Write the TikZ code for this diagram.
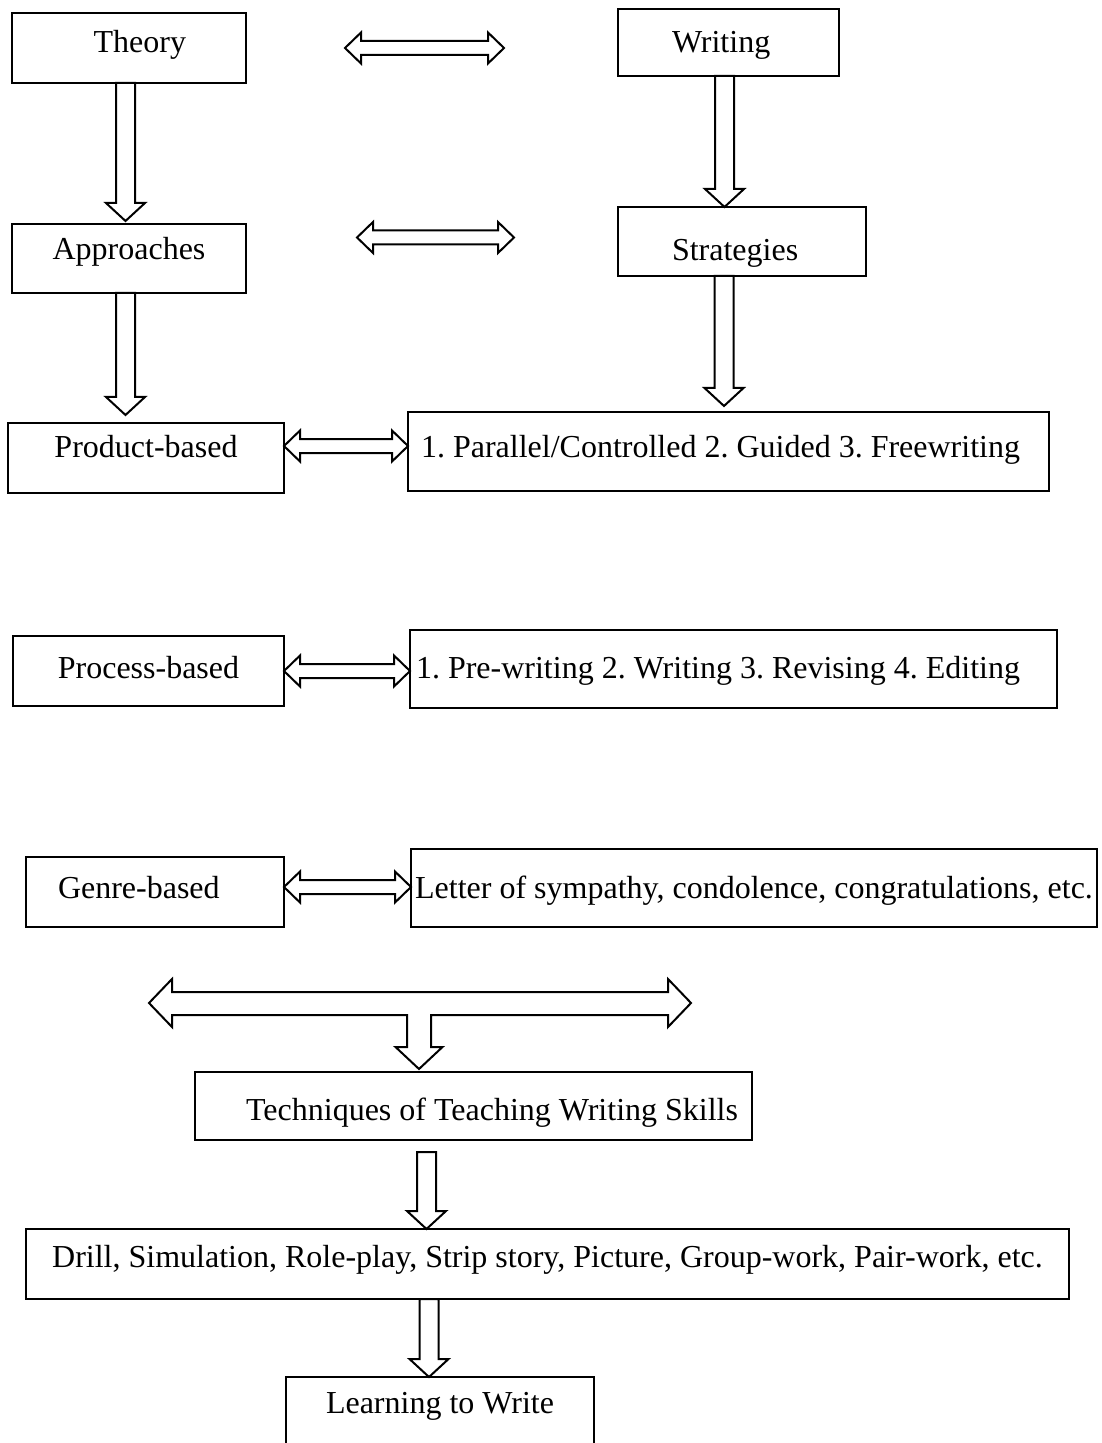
\documentclass[tikz,border=0pt]{standalone}
\usepackage{fontspec}
\setmainfont{Liberation Serif}
\usetikzlibrary{calc}
\frenchspacing
\tikzset{
  box/.style={draw, line width=1pt, outer sep=0pt, anchor=north west,
    font=\fontsize{16pt}{19pt}\selectfont, text height=11pt},
  downarrow/.style={line width=1pt, to path={let \p1=(\tikztostart), \p2=(\tikztotarget) in
    (\x1-4.75pt,\y1) -- (\x1-4.75pt,\y2+9pt) -- (\x1-9.75pt,\y2+9pt) -- (\x1,\y2)
    -- (\x1+9.75pt,\y2+9pt) -- (\x1+4.75pt,\y2+9pt) -- (\x1+4.75pt,\y1) -- cycle}},
  botharrow/.style={line width=1pt, to path={let \p1=(\tikztostart), \p2=(\tikztotarget) in
    (\x1,\y1) -- (\x1+8pt,\y1+7.75pt) -- (\x1+8pt,\y1+3.5pt) -- (\x2-8pt,\y1+3.5pt)
    -- (\x2-8pt,\y1+7.75pt) -- (\x2,\y1) -- (\x2-8pt,\y1-7.75pt) -- (\x2-8pt,\y1-3.5pt)
    -- (\x1+8pt,\y1-3.5pt) -- (\x1+8pt,\y1-7.75pt) -- cycle}}
}
\begin{document}
\begin{tikzpicture}[x=0.5pt,y=-0.5pt]
      \clip (0,0) rectangle (1101,1443);
      \node[box, minimum width=117pt, minimum height=35pt, text depth=6pt,
        align=flush right, text width=57pt, inner xsep=30pt] (theory) at (12,13) {Theory};
      \node[box, minimum width=110.5pt, minimum height=33.5pt, text depth=0.5pt,
        align=flush left, text width=56.5pt, inner xsep=27pt] (writing) at (618,9) {Writing};
      \node[box, minimum width=117pt, minimum height=34.5pt, text depth=9.5pt]
        (approaches) at (12,224) {Approaches};
      \node[box, minimum width=124pt, minimum height=34.5pt, text height=20pt, text depth=0.5pt,
        align=flush left, text width=70pt, inner xsep=27pt] (strategies) at (618,207) {Strategies};
      \node[box, minimum width=138pt, minimum height=35pt, text depth=12pt]
        (product) at (8,423) {Product-based};
      \node[box, minimum width=320.5pt, minimum height=39.5pt, text depth=5.5pt,
        align=flush left, text width=307.5pt, inner xsep=6.5pt] (parallel) at (408,412)
        {1. Parallel/Controlled 2. Guided 3. Freewriting};
      \node[box, minimum width=135.5pt, minimum height=35pt, text depth=4pt]
        (process) at (13,636) {Process-based};
      \node[box, minimum width=323.5pt, minimum height=39pt, text depth=2pt,
        align=flush left, text width=317.5pt, inner xsep=3pt] (prewriting) at (410,630)
        {1. Pre-writing 2. Writing 3. Revising 4. Editing};
      \node[box, minimum width=129pt, minimum height=35pt, text depth=5pt,
        align=flush left, text width=97pt, inner xsep=16pt] (genre) at (26,857) {Genre-based};
      \node[box, minimum width=343pt, minimum height=39pt, text depth=1pt, inner xsep=1pt]
        (letter) at (411,849) {Letter of sympathy, condolence, congratulations, etc.};
      \node[box, minimum width=278.5pt, minimum height=34pt, text height=14.5pt, text depth=0.5pt,
        align=flush right, text width=264.5pt, inner xsep=7pt] (techniques) at (195,1072)
        {Techniques of Teaching Writing Skills};
      \node[box, minimum width=521.5pt, minimum height=35pt, text depth=8pt]
        (drill) at (26,1229)
        {Drill, Simulation, Role-play, Strip story, Picture, Group-work, Pair-work, etc.};
      \node[box, minimum width=154pt, minimum height=35pt, text depth=10pt]
        (learning) at (286,1377) {Learning to Write};
      \draw[botharrow] ([xshift=49.5pt]theory.east) to ([xshift=-57pt]writing.west);
      \draw[botharrow] ([xshift=55.5pt,yshift=10.5pt]approaches.east) to ([xshift=-52pt]strategies.west);
      \draw[botharrow] ([yshift=6pt]product.east) to (parallel.west);
      \draw[botharrow] (process.east) to (prewriting.west);
      \draw[botharrow] ([yshift=2.5pt]genre.east) to (letter.west);
      \draw[downarrow] ([xshift=-1.75pt]theory.south) to ([yshift=1.5pt]approaches.north);
      \draw[downarrow] ([xshift=-1.75pt]approaches.south) to ([yshift=4pt]product.north);
      \draw[downarrow] ([xshift=-2pt]writing.south) to (strategies.north);
      \draw[downarrow] ([xshift=-9pt]strategies.south) to ([yshift=3pt]parallel.north);
      \draw[downarrow] ([xshift=-23.5pt,yshift=-6pt]techniques.south) to (drill.north);
      \draw[downarrow] ([xshift=-59.25pt]drill.south) to (learning.north);
      \coordinate (fork) at ([xshift=-27.25pt,yshift=1.5pt]techniques.north);
      \draw[line width=1pt, shift={(fork)}]
        (0,0) -- (-23.5,-22) -- (-12,-22) -- (-12,-54) -- (-247,-54) -- (-247,-42)
        -- (-270,-66) -- (-247,-90) -- (-247,-77) -- (249,-77) -- (249,-90)
        -- (272,-66) -- (249,-42) -- (249,-54) -- (12,-54) -- (12,-22) -- (23.5,-22) -- cycle;
    \end{tikzpicture}
\end{document}
